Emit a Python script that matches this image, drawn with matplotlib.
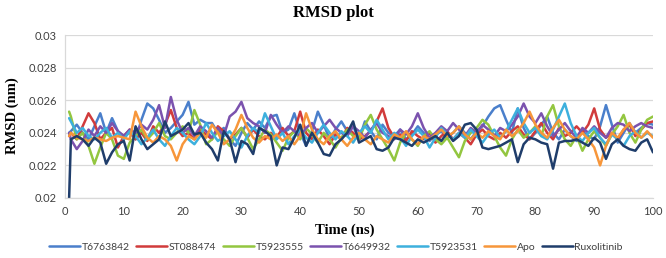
import numpy as np
import matplotlib
matplotlib.use("Agg")
import matplotlib.pyplot as plt
from matplotlib.ticker import FuncFormatter

time = [0.7] + list(range(1, 101))

T6763842 = [0.0240, 0.0241, 0.0245, 0.0240, 0.0236, 0.0244, 0.0252, 0.0240, 0.0249, 0.0241, 0.0238,
            0.0240, 0.0236, 0.0248, 0.0258, 0.0255, 0.0248, 0.0240, 0.0243, 0.0247, 0.0251,
            0.0259, 0.0245, 0.0248, 0.0246, 0.0246, 0.0240, 0.0243, 0.0236, 0.0232, 0.0240,
            0.0246, 0.0242, 0.0247, 0.0243, 0.0250, 0.0251, 0.0240, 0.0242, 0.0252, 0.0240,
            0.0232, 0.0241, 0.0253, 0.0245, 0.0236, 0.0242, 0.0247, 0.0241, 0.0244, 0.0236,
            0.0247, 0.0241, 0.0236, 0.0245, 0.0240, 0.0238, 0.0242, 0.0236, 0.0239, 0.0244,
            0.0240, 0.0235, 0.0239, 0.0241, 0.0237, 0.0240, 0.0244, 0.0240, 0.0236, 0.0241,
            0.0244, 0.0250, 0.0255, 0.0257, 0.0248, 0.0240, 0.0255, 0.0243, 0.0236, 0.0240,
            0.0245, 0.0250, 0.0240, 0.0236, 0.0242, 0.0238, 0.0235, 0.0241, 0.0238, 0.0236,
            0.0244, 0.0257, 0.0245, 0.0234, 0.0240, 0.0246, 0.0240, 0.0243, 0.0246, 0.0245]

ST088474 = [0.0238, 0.0240, 0.0236, 0.0244, 0.0252, 0.0246, 0.0236, 0.0240, 0.0243, 0.0231, 0.0238,
            0.0242, 0.0236, 0.0240, 0.0235, 0.0244, 0.0240, 0.0245, 0.0254, 0.0243, 0.0238,
            0.0240, 0.0236, 0.0242, 0.0239, 0.0236, 0.0244, 0.0241, 0.0236, 0.0239, 0.0243,
            0.0237, 0.0242, 0.0238, 0.0236, 0.0240, 0.0237, 0.0243, 0.0238, 0.0241, 0.0253,
            0.0240, 0.0236, 0.0242, 0.0238, 0.0233, 0.0239, 0.0236, 0.0243, 0.0240, 0.0236,
            0.0238, 0.0241, 0.0247, 0.0255, 0.0243, 0.0237, 0.0239, 0.0235, 0.0241, 0.0238,
            0.0236, 0.0240, 0.0234, 0.0238, 0.0241, 0.0236, 0.0240, 0.0237, 0.0233, 0.0239,
            0.0242, 0.0238, 0.0236, 0.0240, 0.0237, 0.0241, 0.0244, 0.0239, 0.0236, 0.0241,
            0.0246, 0.0240, 0.0236, 0.0243, 0.0238, 0.0240, 0.0244, 0.0240, 0.0245, 0.0255,
            0.0242, 0.0237, 0.0240, 0.0236, 0.0242, 0.0245, 0.0238, 0.0242, 0.0246, 0.0247]

T5923555 = [0.0253, 0.0250, 0.0236, 0.0240, 0.0232, 0.0221, 0.0231, 0.0240, 0.0236, 0.0226, 0.0224,
            0.0234, 0.0238, 0.0242, 0.0236, 0.0240, 0.0246, 0.0238, 0.0236, 0.0240, 0.0244,
            0.0240, 0.0254, 0.0245, 0.0233, 0.0236, 0.0241, 0.0236, 0.0232, 0.0238, 0.0243,
            0.0237, 0.0230, 0.0236, 0.0242, 0.0239, 0.0234, 0.0229, 0.0237, 0.0241, 0.0236,
            0.0243, 0.0239, 0.0234, 0.0240, 0.0236, 0.0231, 0.0237, 0.0242, 0.0238, 0.0236,
            0.0245, 0.0251, 0.0242, 0.0236, 0.0230, 0.0223, 0.0234, 0.0240, 0.0236, 0.0232,
            0.0238, 0.0241, 0.0236, 0.0233, 0.0237, 0.0231, 0.0225, 0.0235, 0.0240, 0.0243,
            0.0248, 0.0245, 0.0238, 0.0231, 0.0226, 0.0236, 0.0242, 0.0237, 0.0240, 0.0244,
            0.0238, 0.0250, 0.0257, 0.0244, 0.0236, 0.0232, 0.0238, 0.0229, 0.0236, 0.0241,
            0.0237, 0.0232, 0.0239, 0.0244, 0.0251, 0.0240, 0.0234, 0.0242, 0.0248, 0.0250]

T6649932 = [0.0240, 0.0236, 0.0230, 0.0235, 0.0242, 0.0238, 0.0244, 0.0240, 0.0246, 0.0241, 0.0238,
            0.0242, 0.0240, 0.0245, 0.0242, 0.0248, 0.0257, 0.0243, 0.0262, 0.0248, 0.0240,
            0.0243, 0.0238, 0.0244, 0.0241, 0.0237, 0.0243, 0.0238, 0.0250, 0.0253, 0.0259,
            0.0249, 0.0246, 0.0244, 0.0240, 0.0251, 0.0245, 0.0240, 0.0244, 0.0241, 0.0238,
            0.0243, 0.0246, 0.0240, 0.0244, 0.0248, 0.0243, 0.0240, 0.0238, 0.0244, 0.0241,
            0.0237, 0.0242, 0.0246, 0.0240, 0.0238, 0.0236, 0.0242, 0.0239, 0.0244, 0.0252,
            0.0243, 0.0237, 0.0240, 0.0244, 0.0241, 0.0246, 0.0242, 0.0238, 0.0243, 0.0240,
            0.0245, 0.0242, 0.0238, 0.0243, 0.0241, 0.0245, 0.0250, 0.0258, 0.0250, 0.0246,
            0.0252, 0.0244, 0.0238, 0.0242, 0.0246, 0.0241, 0.0237, 0.0243, 0.0240, 0.0244,
            0.0240, 0.0237, 0.0243, 0.0246, 0.0245, 0.0241, 0.0244, 0.0246, 0.0244, 0.0243]

T5923531 = [0.0249, 0.0247, 0.0240, 0.0243, 0.0238, 0.0236, 0.0240, 0.0243, 0.0237, 0.0240, 0.0236,
            0.0241, 0.0238, 0.0233, 0.0237, 0.0242, 0.0236, 0.0232, 0.0238, 0.0243, 0.0240,
            0.0236, 0.0233, 0.0238, 0.0246, 0.0240, 0.0235, 0.0238, 0.0241, 0.0236, 0.0231,
            0.0238, 0.0243, 0.0240, 0.0252, 0.0244, 0.0236, 0.0240, 0.0233, 0.0238, 0.0242,
            0.0237, 0.0234, 0.0240, 0.0245, 0.0240, 0.0236, 0.0241, 0.0238, 0.0234, 0.0240,
            0.0244, 0.0240, 0.0248, 0.0242, 0.0236, 0.0240, 0.0237, 0.0232, 0.0238, 0.0242,
            0.0238, 0.0231, 0.0237, 0.0243, 0.0239, 0.0236, 0.0240, 0.0237, 0.0242, 0.0238,
            0.0234, 0.0239, 0.0242, 0.0237, 0.0241, 0.0248, 0.0255, 0.0246, 0.0240, 0.0243,
            0.0238, 0.0236, 0.0242, 0.0250, 0.0258, 0.0246, 0.0238, 0.0235, 0.0240, 0.0243,
            0.0237, 0.0233, 0.0239, 0.0236, 0.0232, 0.0238, 0.0241, 0.0237, 0.0240, 0.0238]

Apo = [0.0238, 0.0240, 0.0237, 0.0236, 0.0235, 0.0237, 0.0236, 0.0235, 0.0237, 0.0238, 0.0237,
       0.0236, 0.0253, 0.0244, 0.0237, 0.0234, 0.0238, 0.0236, 0.0232, 0.0223, 0.0233,
       0.0238, 0.0236, 0.0240, 0.0237, 0.0245, 0.0240, 0.0233, 0.0236, 0.0242, 0.0251,
       0.0243, 0.0237, 0.0234, 0.0238, 0.0236, 0.0239, 0.0235, 0.0238, 0.0233, 0.0238,
       0.0252, 0.0242, 0.0236, 0.0233, 0.0238, 0.0241, 0.0236, 0.0232, 0.0237, 0.0240,
       0.0236, 0.0233, 0.0238, 0.0236, 0.0234, 0.0239, 0.0237, 0.0241, 0.0236, 0.0233,
       0.0238, 0.0236, 0.0239, 0.0242, 0.0238, 0.0240, 0.0244, 0.0239, 0.0236, 0.0240,
       0.0237, 0.0241, 0.0238, 0.0236, 0.0242, 0.0238, 0.0241, 0.0246, 0.0253, 0.0245,
       0.0240, 0.0237, 0.0243, 0.0248, 0.0242, 0.0238, 0.0236, 0.0240, 0.0236, 0.0231,
       0.0220, 0.0232, 0.0240, 0.0237, 0.0242, 0.0246, 0.0240, 0.0237, 0.0241, 0.0237]

Ruxolitinib = [0.0200, 0.0236, 0.0238, 0.0236, 0.0232, 0.0237, 0.0234, 0.0221, 0.0228, 0.0233, 0.0235,
               0.0223, 0.0244, 0.0236, 0.0230, 0.0233, 0.0236, 0.0247, 0.0238, 0.0240, 0.0242,
               0.0246, 0.0239, 0.0240, 0.0234, 0.0230, 0.0223, 0.0241, 0.0236, 0.0222, 0.0235,
               0.0233, 0.0227, 0.0243, 0.0241, 0.0238, 0.0220, 0.0231, 0.0230, 0.0237, 0.0245,
               0.0232, 0.0240, 0.0234, 0.0227, 0.0226, 0.0233, 0.0236, 0.0240, 0.0247, 0.0234,
               0.0236, 0.0238, 0.0230, 0.0229, 0.0231, 0.0237, 0.0236, 0.0234, 0.0232, 0.0236,
               0.0234, 0.0236, 0.0238, 0.0235, 0.0240, 0.0235, 0.0238, 0.0245, 0.0246, 0.0242,
               0.0231, 0.0230, 0.0231, 0.0232, 0.0234, 0.0236, 0.0222, 0.0233, 0.0237, 0.0236,
               0.0234, 0.0233, 0.0218, 0.0234, 0.0235, 0.0235, 0.0236, 0.0234, 0.0232, 0.0237,
               0.0234, 0.0224, 0.0233, 0.0236, 0.0232, 0.0230, 0.0229, 0.0234, 0.0236, 0.0228]

series_names = ["T6763842", "ST088474", "T5923555", "T6649932", "T5923531", "Apo", "Ruxolitinib"]
series_values = [T6763842, ST088474, T5923555, T6649932, T5923531, Apo, Ruxolitinib]
colors = ["#4A7FCB", "#D13B3B", "#93C640", "#7B52AE", "#3DB0DD", "#F7963A", "#1F3D6B"]

x_ticks = [0, 10, 20, 30, 40, 50, 60, 70, 80, 90, 100]
y_ticks = [0.02, 0.022, 0.024, 0.026, 0.028, 0.03]

fig = plt.figure(figsize=(6.66, 2.58), dpi=100)
ax = fig.add_axes([0.0976, 0.2326, 0.8829, 0.6314])

for name, vals, c in zip(series_names, series_values, colors):
    ax.plot(time, vals, color=c, lw=1.8, label=name, solid_joinstyle="round", solid_capstyle="round")

ax.set_xlim(0, 100)
ax.set_ylim(0.02, 0.03)
ax.set_xticks(x_ticks)
ax.set_yticks(y_ticks)
ax.yaxis.set_major_formatter(FuncFormatter(lambda v, p: f"{v:g}"))
ax.grid(axis="y", color="#D9D9D9", lw=0.9)
ax.set_axisbelow(True)
for s in ["top", "right"]:
    ax.spines[s].set_visible(False)
ax.spines["left"].set_color("#D9D9D9")
ax.spines["bottom"].set_color("#D9D9D9")
ax.spines["left"].set_linewidth(0.9)
ax.spines["bottom"].set_linewidth(0.9)
ax.tick_params(length=0, labelsize=8, colors="#404040", pad=6)
for lbl in ax.get_xticklabels() + ax.get_yticklabels():
    lbl.set_family("Lato")

fig.text(0.5, 0.95, "RMSD plot", ha="center", va="center", family="Liberation Serif",
         fontweight="bold", fontsize=12)
fig.text(345 / 666, 1 - 230 / 258, "Time (ns)", ha="center", va="center", family="Liberation Serif",
         fontweight="bold", fontsize=10.5)
fig.text(12 / 666, 1 - 116 / 258, "RMSD (nm)", ha="center", va="center", rotation=90,
         family="Liberation Serif", fontweight="bold", fontsize=10.5)

leg = fig.legend(loc="center", bbox_to_anchor=(336 / 666, 1 - 247 / 258), ncol=7, frameon=False,
                 handlelength=3.0, handletextpad=0.15, columnspacing=0.6,
                 prop={"family": "Lato", "size": 7.5})
for t in leg.get_texts():
    t.set_color("#404040")

fig.savefig("out.png", dpi=100)
